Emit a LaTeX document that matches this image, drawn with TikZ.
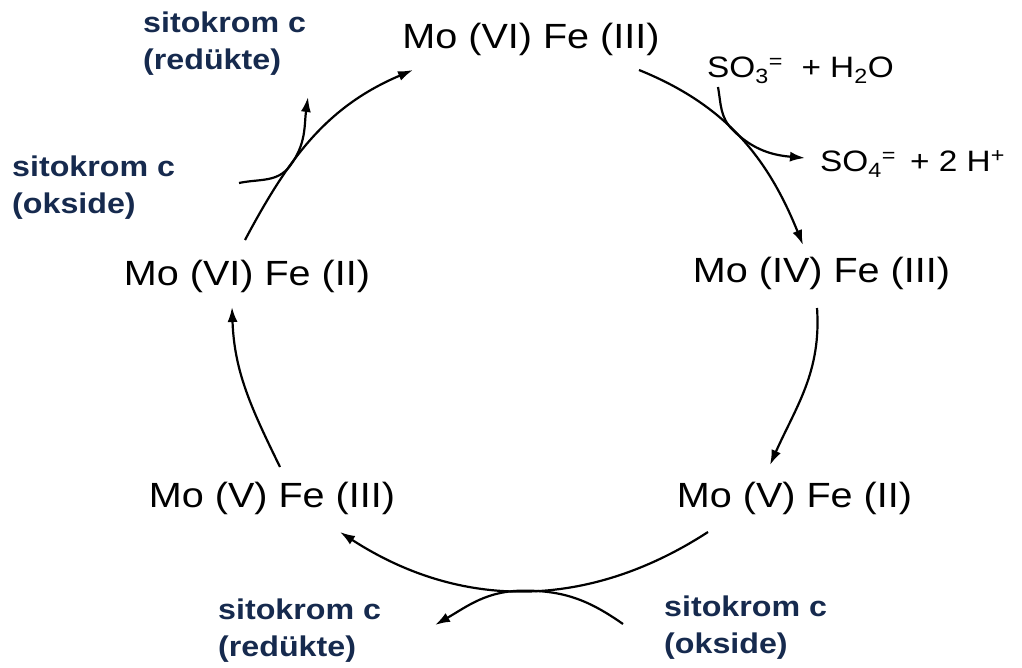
\documentclass[tikz,border=0pt]{standalone}
\usepackage{fontspec}
\setmainfont{Liberation Sans}[FakeStretch=1.13]
\usetikzlibrary{arrows.meta, calc}
\definecolor{cytnavy}{RGB}{22, 42, 78}

\begin{document}
\begin{tikzpicture}[x=1pt, y=1pt,
    redox/.style={font=\fontsize{35}{40}\selectfont, inner sep=0pt, anchor=base},
    cyt/.style={font=\bfseries\fontsize{28.5}{37}\selectfont, text=cytnavy,
                align=left, anchor=west, inner sep=0pt},
    chem/.style={font=\fontsize{29.5}{32}\selectfont, anchor=base west, inner sep=0pt},
    arr/.style={-{Latex[length=15pt, width=10pt]}, line width=2.2pt}
  ]
    \useasboundingbox (0,0) rectangle (1022,-668);

    % oxidation states of the cycle
    \node[redox] (vi3) at (531,-49)   {Mo (VI) Fe (III)};
    \node[redox] (iv3) at (821.5,-283) {Mo (IV) Fe (III)};
    \node[redox] (v2)  at (794.5,-507) {Mo (V) Fe (II)};
    \node[redox] (v3)  at (272,-507)   {Mo (V) Fe (III)};
    \node[redox] (vi2) at (247,-285)   {Mo (VI) Fe (II)};

    % substrates and electron carriers
    \node[chem] (so3) at (707,-78)  {SO\textsubscript{3}\textsuperscript{=}\ \ + H\textsubscript{2}O};
    \node[chem] (so4) at (820,-172) {SO\textsubscript{4}\textsuperscript{=}\ \,+ 2 H\textsuperscript{+}};
    \node[cyt] (redtop) at (143,-44)  {sitokrom c\\(redükte)};
    \node[cyt] (oxleft) at (12,-188)  {sitokrom c\\(okside)};
    \node[cyt] (redbot) at (218,-631) {sitokrom c\\(redükte)};
    \node[cyt] (oxbot)  at (664,-628) {sitokrom c\\(okside)};

    % main cycle
    \draw[arr] ($(vi3.base)+(108,-21)$) to[out=-22, in=112]
        node[coordinate, pos=.45] (rt) {}
        ($(iv3.base)+(-18.5,38)$);
    \draw[arr] ($(iv3.base)+(-4.5,-25)$) to[out=-86, in=66] ($(v2.base)+(-24.5,42)$);
    \draw[arr] ($(v2.base)+(-86.5,-25)$) to[out=-147, in=-33]
        node[coordinate, pos=.5] (bt) {}
        ($(v3.base)+(68,-25)$);
    \draw[arr] ($(v3.base)+(8,40)$) to[out=116, in=-88] ($(vi2.base)+(-15,-22)$);
    \draw[arr] ($(vi2.base)+(-2,45)$) to[out=62, in=-157]
        node[coordinate, pos=.34] (lt) {}
        ($(vi3.base)+(-118,-21)$);

    % side reactions
    \draw[arr] ($(so3.base west)+(11,-9)$) to[out=-80, in=135] (rt)
        to[out=-45, in=175] ($(so4.base west)+(-15,14)$);
    \draw[arr] ($(oxleft.west)+(227,5)$) to[out=12, in=-127] (lt)
        to[out=53, in=-98] ($(redtop.west)+(165,-53)$);
    \draw[arr] ($(oxbot.west)+(-41,4)$) to[out=145, in=0] (bt)
        to[out=180, in=30] ($(redbot.west)+(217,6)$);
\end{tikzpicture}
\end{document}
